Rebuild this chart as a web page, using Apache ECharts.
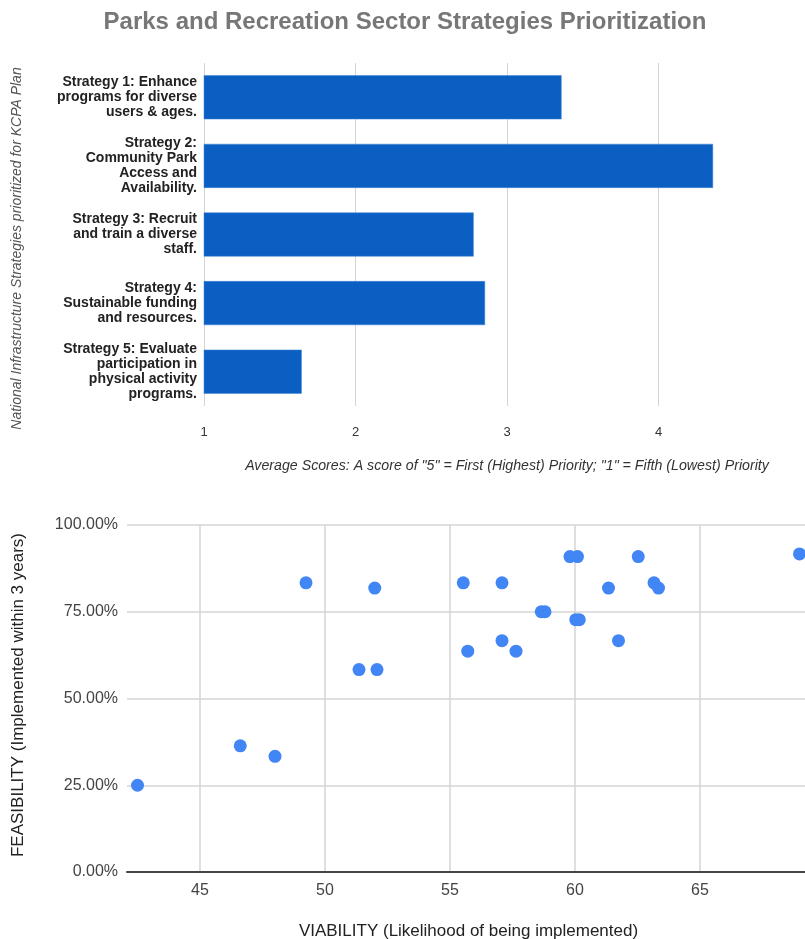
<!DOCTYPE html>
<html>
<head>
<meta charset="utf-8">
<script src="https://cdn.jsdelivr.net/npm/echarts@6/dist/echarts.min.js"></script>
<style>
html,body{margin:0;padding:0;overflow:hidden;background:#fff;width:805px;height:939px;}
#c{width:810px;height:939px;}
</style>
</head>
<body>
<div id="c"></div>
<script>
// ---- Top chart data ----
const strategies = [
  'Strategy 1: Enhance\nprograms for diverse\nusers & ages.',
  'Strategy 2:\nCommunity Park\nAccess and\nAvailability.',
  'Strategy 3: Recruit\nand train a diverse\nstaff.',
  'Strategy 4:\nSustainable funding\nand resources.',
  'Strategy 5: Evaluate\nparticipation in\nphysical activity\nprograms.'
];
const averageScores = [3.36, 4.36, 2.78, 2.855, 1.645];
const scoreTicks = [1, 2, 3, 4, 5];

// ---- Bottom chart data ----
const viability = [49.24, 51.99, 55.53, 57.08, 59.8, 60.1, 62.53, 61.34, 63.16, 63.34,
                   58.65, 58.8, 60.03, 60.17, 57.08, 61.74, 55.71, 57.64, 51.36, 52.08,
                   68.98, 46.61, 48.0, 42.5];
const feasibility = [0.8333, 0.8182, 0.8333, 0.8333, 0.9091, 0.9091, 0.9091, 0.8182, 0.8333, 0.8182,
                     0.75, 0.75, 0.7273, 0.7273, 0.6667, 0.6667, 0.6364, 0.6364, 0.5833, 0.5833,
                     0.9167, 0.3636, 0.3333, 0.25];
const feasibilityTicks = [0, 0.25, 0.5, 0.75, 1];

const scatterData = viability.map((v, i) => [v, feasibility[i]]);

const chart = echarts.init(document.getElementById('c'), null, {width: 810, height: 939});
const sans = 'Liberation Sans, Arial, sans-serif';

chart.setOption({
  backgroundColor: '#fff',
  animation: false,
  title: {
    text: 'Parks and Recreation Sector Strategies Prioritization',
    left: 'center',
    top: 5,
    textStyle: {fontFamily: sans, fontWeight: 'bold', fontSize: 24, color: '#777'}
  },
  grid: [
    {left: 204, right: 0, top: 63, height: 343, outerBoundsMode: 'none', containLabel: false},
    {left: 127, right: 0, top: 525, height: 347, outerBoundsMode: 'none', containLabel: false}
  ],
  xAxis: [
    {
      gridIndex: 0, type: 'value', min: scoreTicks[0], max: scoreTicks[scoreTicks.length - 1], interval: 1,
      axisLine: {show: false}, axisTick: {show: false},
      splitLine: {lineStyle: {color: '#d4d4d4', width: 1}},
      axisLabel: {margin: 20, fontFamily: sans, fontSize: 13, color: '#333'},
      name: 'Average Scores: A score of "5" = First (Highest) Priority; "1" = Fifth (Lowest) Priority',
      nameLocation: 'middle', nameGap: 53,
      nameTextStyle: {fontFamily: sans, fontStyle: 'italic', fontSize: 14.2, color: '#333'}
    },
    {
      gridIndex: 1, type: 'value', min: 42.08, max: 69.4,
      axisLine: {show: true, onZero: false, lineStyle: {color: '#444', width: 2}},
      axisTick: {show: false},
      splitLine: {showMinLine: false, showMaxLine: false, lineStyle: {color: '#d4d4d4', width: 1.5}},
      axisLabel: {margin: 11, fontFamily: sans, fontSize: 16, color: '#444', showMinLabel: false, showMaxLabel: false},
      name: 'VIABILITY (Likelihood of being implemented)',
      nameLocation: 'middle', nameGap: 51,
      nameTextStyle: {fontFamily: sans, fontSize: 17, color: '#222'}
    }
  ],
  yAxis: [
    {
      gridIndex: 0, type: 'category', data: strategies, inverse: true,
      axisLine: {show: false}, axisTick: {show: false},
      axisLabel: {margin: 7, fontFamily: sans, fontWeight: 'bold', fontSize: 14, lineHeight: 15, color: '#222', align: 'right'},
      name: 'National Infrastructure Strategies prioritized for KCPA Plan',
      nameLocation: 'middle', nameGap: 180, nameRotate: 90,
      nameTextStyle: {fontFamily: sans, fontStyle: 'italic', fontSize: 14, color: '#555', padding: [0, 28, 0, 0]}
    },
    {
      gridIndex: 1, type: 'value', min: feasibilityTicks[0], max: feasibilityTicks[feasibilityTicks.length - 1], interval: 0.25,
      axisLine: {show: false}, axisTick: {show: false},
      splitLine: {lineStyle: {color: '#d4d4d4', width: 1.5}},
      axisLabel: {margin: 9, fontFamily: sans, fontSize: 16, color: '#444',
        formatter: v => (v * 100).toFixed(2) + '%'},
      name: 'FEASIBILITY (Implemented within 3 years)',
      nameLocation: 'middle', nameGap: 100, nameRotate: 90,
      nameTextStyle: {fontFamily: sans, fontSize: 17, color: '#222', padding: [0, 0, 0, 7]}
    }
  ],
  series: [
    {
      type: 'bar', xAxisIndex: 0, yAxisIndex: 0,
      data: averageScores, barWidth: 44,
      itemStyle: {color: '#0b5fc3', borderColor: '#3d85d8', borderWidth: 0.5}
    },
    {
      type: 'scatter', xAxisIndex: 1, yAxisIndex: 1,
      data: scatterData, symbolSize: 13,
      itemStyle: {color: '#4285f4', opacity: 1}
    }
  ]
});
</script>
</body>
</html>
